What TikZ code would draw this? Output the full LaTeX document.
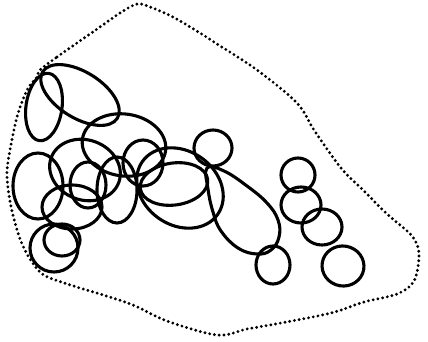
\documentclass[tikz,border=0pt]{standalone}
\begin{document}
\begin{tikzpicture}[x=1pt,y=-1pt,
  loop/.style={draw=black,line width=3.1pt},
  border/.style={draw=black,line width=3.2pt,line cap=round,dash pattern=on 0pt off 4.8pt}]
\useasboundingbox (0,0) rectangle (428,342);
% dotted outline
\draw[border] plot[smooth cycle,tension=0.55] coordinates {
 (40,70)(57,57)(77,43)(100,27)(120,13)(137,4)(150,7)(173,17)(200,33)(214,42)
 (257,70)(297,103)(314,130)(341,168)(364,191)(387,214)(412,236)(419,254)
 (414,281)(397,294)(364,302)(331,313)(281,323)(247,329)(217,335)(167,321)
 (133,305)(100,294)(83,289)(50,278)(38,270)(27,254)(19,236)(12,211)(8,188)
 (7,171)(10,150)(17,117)(27,90)(37,77)};
% top-left loops
\draw[loop,rotate around={-8:(44,107)}] (44,107) ellipse [x radius=18,y radius=34];
\draw[loop,rotate around={-32:(80,95)}] (80,95) ellipse [x radius=44,y radius=23];
% central loops
\draw[loop,rotate around={-8:(124,145)}] (124,145) ellipse [x radius=42,y radius=31];
\draw[loop] (143,163) ellipse [x radius=20,y radius=23];
\draw[loop] (213,148) ellipse [x radius=19,y radius=18];
\draw[loop,rotate around={8:(174,184)}] (174,184) ellipse [x radius=34,y radius=21];
\draw[loop,rotate around={-35:(180,188)}] (180,188) ellipse [x radius=46,y radius=37];
% teardrop
\draw[loop] plot[smooth cycle,tension=0.7] coordinates {
 (207,168)(224,171)(247,186)(267,203)(278,220)(279,237)(271,250)(257,254)
 (238,248)(221,231)(213,212)(208,189)};
% right circles
\draw[loop] (273,265) ellipse [x radius=17,y radius=19];
\draw[loop] (298,175) ellipse [x radius=17,y radius=17];
\draw[loop] (301,205) ellipse [x radius=20,y radius=18];
\draw[loop] (322,227) ellipse [x radius=20,y radius=18];
\draw[loop,rotate around={-10:(343,266)}] (343,266) ellipse [x radius=21,y radius=20];
% left cluster
\draw[loop] (38,186) ellipse [x radius=25,y radius=33];
\draw[loop,rotate around={-20:(85,170)}] (85,170) ellipse [x radius=36,y radius=30];
\draw[loop] (88,185) ellipse [x radius=18,y radius=23];
\draw[loop] (117,190) ellipse [x radius=20,y radius=33];
\draw[loop] (72,207) ellipse [x radius=30,y radius=22];
\draw[loop] (54,248) ellipse [x radius=24,y radius=24];
\draw[loop] (62,240) ellipse [x radius=18,y radius=16];
\end{tikzpicture}
\end{document}
